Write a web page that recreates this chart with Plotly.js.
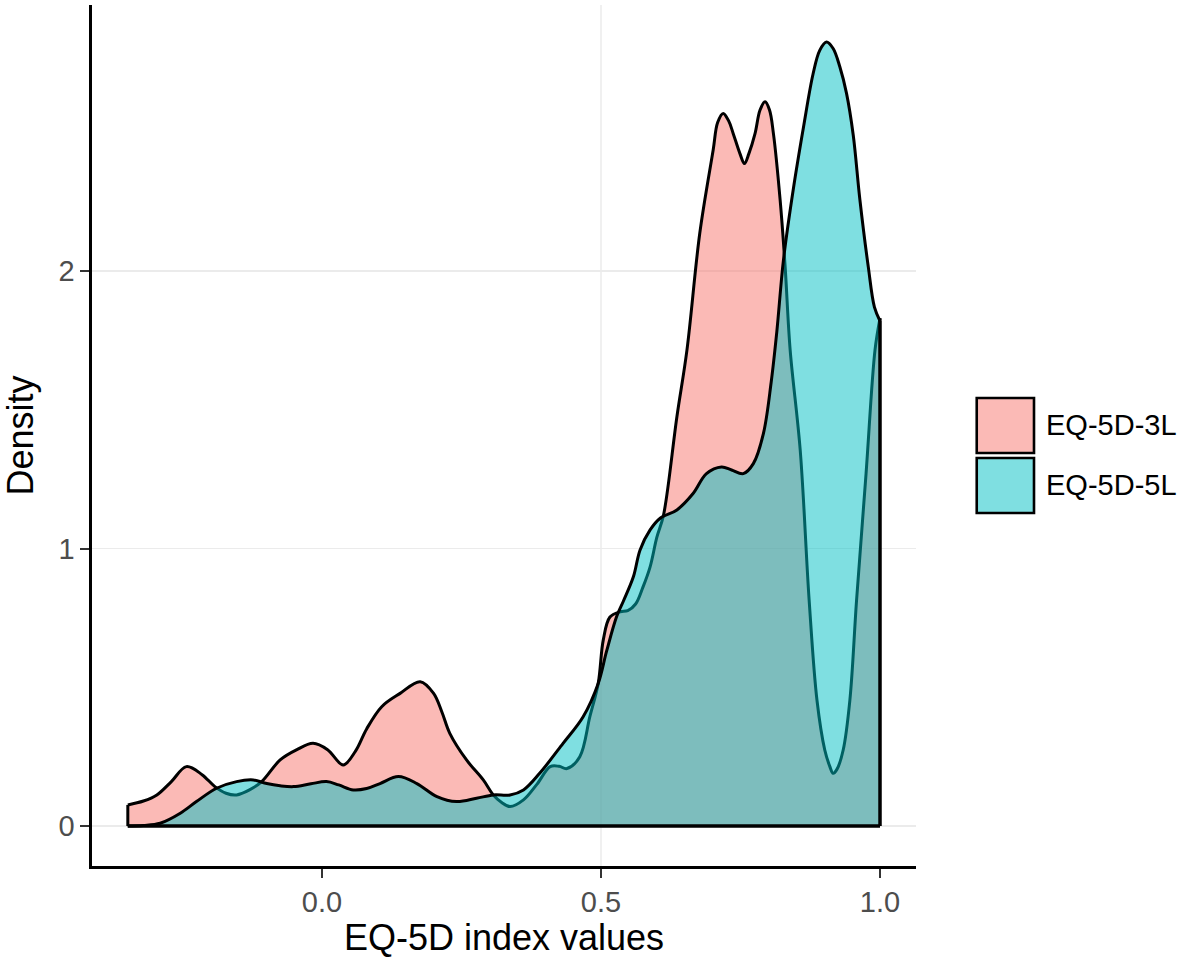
<!DOCTYPE html>
<html>
<head>
<meta charset="utf-8">
<script src="https://cdn.plot.ly/plotly-3.0.1.min.js"></script>
<style>
  html, body { margin: 0; padding: 0; background: #fff; }
  #chart { width: 1181px; height: 958px; }
</style>
</head>
<body>
<div id="chart"></div>
<script>
// Kernel density estimates.
const x3L = [-0.348, -0.32, -0.296, -0.27, -0.243, -0.215, -0.192, -0.172, -0.153, -0.13,
  -0.108, -0.075, -0.045, -0.016, 0.01, 0.038, 0.06, 0.08, 0.107, 0.14,
  0.176, 0.2, 0.215, 0.229, 0.259, 0.289, 0.307, 0.322, 0.337, 0.361,
  0.385, 0.409, 0.425, 0.439, 0.462, 0.48, 0.495, 0.504, 0.516, 0.534,
  0.548, 0.562, 0.575, 0.588, 0.6, 0.612, 0.636, 0.654, 0.677, 0.701,
  0.709, 0.719, 0.729, 0.737, 0.749, 0.757, 0.765, 0.776, 0.785, 0.794,
  0.802, 0.809, 0.821, 0.83, 0.839, 0.857, 0.873, 0.887, 0.901, 0.91,
  0.916, 0.923, 0.934, 0.946, 0.958, 0.975, 0.991, 1.0];
const y3L = [0.076, 0.09, 0.112, 0.16, 0.214, 0.185, 0.142, 0.118, 0.112, 0.13,
  0.16, 0.238, 0.275, 0.298, 0.275, 0.22, 0.27, 0.35, 0.43, 0.478,
  0.52, 0.478, 0.41, 0.334, 0.238, 0.166, 0.112, 0.085, 0.07, 0.094,
  0.15, 0.214, 0.215, 0.207, 0.25, 0.394, 0.514, 0.67, 0.753, 0.772,
  0.776, 0.8, 0.86, 0.934, 1.04, 1.12, 1.475, 1.715, 2.136, 2.436,
  2.535, 2.568, 2.54, 2.495, 2.423, 2.387, 2.423, 2.495, 2.58, 2.61,
  2.58, 2.495, 2.256, 2.015, 1.715, 1.355, 0.814, 0.454, 0.274, 0.215,
  0.19, 0.205, 0.274, 0.454, 0.814, 1.27, 1.715, 1.83];

const x5L = [-0.348, -0.32, -0.29, -0.254, -0.225, -0.189, -0.153, -0.123, -0.099, -0.075,
  -0.051, -0.02, 0.008, 0.03, 0.056, 0.08, 0.104, 0.137, 0.17, 0.206,
  0.241, 0.277, 0.307, 0.337, 0.361, 0.39, 0.432, 0.468, 0.495, 0.51,
  0.528, 0.54, 0.558, 0.57, 0.588, 0.606, 0.636, 0.665, 0.689, 0.716,
  0.734, 0.755, 0.773, 0.791, 0.805, 0.815, 0.827, 0.845, 0.863, 0.88,
  0.892, 0.904, 0.916, 0.928, 0.94, 0.952, 0.964, 0.979, 0.99, 1.0];
const y5L = [0.0, 0.002, 0.01, 0.046, 0.088, 0.136, 0.16, 0.166, 0.153, 0.145,
  0.142, 0.152, 0.16, 0.148, 0.13, 0.135, 0.153, 0.178, 0.153, 0.106,
  0.088, 0.1, 0.112, 0.112, 0.13, 0.19, 0.298, 0.394, 0.514, 0.63,
  0.755, 0.81, 0.898, 0.995, 1.067, 1.109, 1.139, 1.198, 1.27, 1.294,
  1.283, 1.27, 1.306, 1.414, 1.6, 1.78, 2.04, 2.3, 2.52, 2.71,
  2.795, 2.825, 2.802, 2.736, 2.64, 2.49, 2.256, 2.015, 1.87, 1.82];

const seriesNames = ["EQ-5D-3L", "EQ-5D-5L"];
const fillColors = ["rgba(248,118,109,0.5)", "rgba(0,191,196,0.5)"];
const xTicks = [0, 0.5, 1];
const yTicks = [0, 1, 2];
const xGridAt = [0.5]; // only this vertical grid line shows in the original

const FONT = "Liberation Sans, Arial, sans-serif";
const OUTLINE = { color: "#000", width: 3 };

const series = [[x3L, y3L], [x5L, y5L]];

// Filled to zero so the ends stay straight; the curve itself is smoothed.
const traces = series.map(([xs, ys], i) => ({
  type: "scatter",
  mode: "lines",
  name: seriesNames[i],
  x: xs,
  y: ys,
  fill: "tozeroy",
  fillcolor: fillColors[i],
  line: { color: OUTLINE.color, width: OUTLINE.width, shape: "spline", smoothing: 1 },
  hoverinfo: "skip",
}));

const shapes = xGridAt.map((v) => ({
  type: "line", xref: "x", yref: "paper", x0: v, x1: v, y0: 0, y1: 1,
  line: { color: "#ebebeb", width: 1.5 }, layer: "below",
}));

// ggplot outlines the whole polygon: baseline plus the two vertical ends.
series.forEach(([xs, ys]) => {
  const n = xs.length - 1;
  shapes.push(
    { type: "line", xref: "x", yref: "y", x0: xs[0], x1: xs[n], y0: 0, y1: 0, line: OUTLINE },
    { type: "line", xref: "x", yref: "y", x0: xs[0], x1: xs[0], y0: 0, y1: ys[0], line: OUTLINE },
    { type: "line", xref: "x", yref: "y", x0: xs[n], x1: xs[n], y0: 0, y1: ys[n], line: OUTLINE },
  );
});

// Legend keys drawn by hand, ggplot style.
const annotations = [];
const keyTop = [0.5436, 0.4739];
const keyH = 0.0639;
seriesNames.forEach((name, i) => {
  shapes.push({
    type: "rect", xref: "paper", yref: "paper",
    x0: 1.0737, x1: 1.1432, y0: keyTop[i] - keyH, y1: keyTop[i],
    fillcolor: fillColors[i], line: { color: "#000", width: 2.6 },
  });
  annotations.push({
    xref: "paper", yref: "paper", x: 1.1553, y: keyTop[i] - keyH / 2,
    xanchor: "left", yanchor: "middle", showarrow: false,
    text: name, font: { family: FONT, size: 29, color: "#000" },
  });
});

const layout = {
  width: 1181,
  height: 958,
  margin: { l: 92, r: 265, t: 5, b: 92 },
  paper_bgcolor: "#fff",
  plot_bgcolor: "#fff",
  showlegend: false,
  font: { family: FONT },
  xaxis: {
    range: [-0.4122, 1.0645],
    tickvals: xTicks,
    ticktext: xTicks.map((v) => v.toFixed(1)),
    showgrid: false,
    zeroline: false,
    showline: true,
    linecolor: "#000",
    linewidth: 2.6,
    ticks: "outside",
    ticklen: 9,
    tickwidth: 2,
    tickcolor: "#333",
    tickfont: { family: FONT, size: 29, color: "#4d4d4d" },
    title: { text: "EQ-5D index values", font: { family: FONT, size: 36, color: "#000" }, standoff: 14 },
  },
  yaxis: {
    range: [-0.1441, 2.9586],
    tickvals: yTicks,
    ticktext: yTicks.map(String),
    showgrid: true,
    gridcolor: "#ebebeb",
    gridwidth: 1.5,
    zeroline: false,
    showline: true,
    linecolor: "#000",
    linewidth: 2.6,
    ticks: "outside",
    ticklen: 9,
    tickwidth: 2,
    tickcolor: "#333",
    tickfont: { family: FONT, size: 29, color: "#4d4d4d" },
    title: { text: "Density", font: { family: FONT, size: 36, color: "#000" }, standoff: 20 },
  },
  shapes,
  annotations,
};

Plotly.newPlot("chart", traces, layout, { staticPlot: true, displayModeBar: false });
</script>
</body>
</html>
